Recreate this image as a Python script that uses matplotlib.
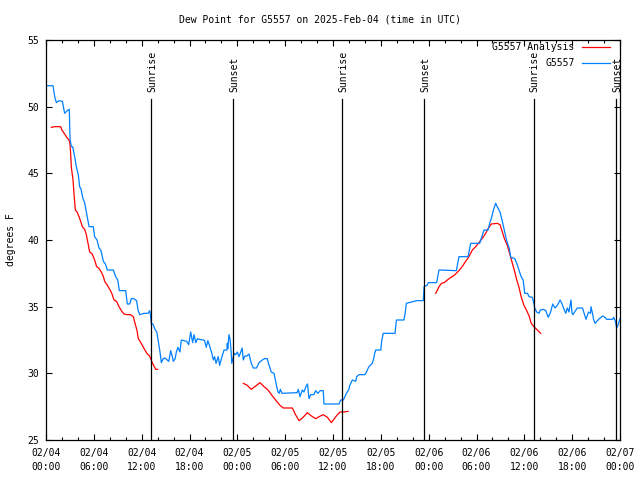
import datetime as dt
from matplotlib import pyplot as plt
from matplotlib.lines import Line2D
import matplotlib.dates as mdates

# hours after 2025-02-04 00:00 UTC, degrees F
obs_hours = [0.08, 0.88, 1.09, 1.3, 1.63, 2.05, 2.34, 2.5, 2.76, 2.92, 3.01, 3.18, 3.35, 3.6, 3.8,
             4.05, 4.22, 4.4, 4.64, 4.85, 5.1, 5.4, 5.93, 6.1, 6.4, 6.65, 6.9, 7.19, 7.45, 7.69,
             8.45, 8.74, 9.0, 9.2, 10.0, 10.2, 10.5, 10.7, 11.0, 11.37, 11.54, 11.75, 12.3, 12.8,
             13.0, 13.1, 13.2, 13.4, 13.67, 13.9, 14.09, 14.3, 14.47, 14.7, 14.95, 15.2, 15.4,
             15.64, 15.85, 15.97, 16.2, 16.35, 16.55, 16.8, 16.97, 17.3, 17.64, 17.9, 18.15, 18.4,
             18.57, 18.8, 19.0, 19.2, 19.73, 19.9, 20.1, 20.3, 20.5, 20.78, 20.99, 21.15, 21.33,
             21.6, 21.78, 22.0, 22.33, 22.7, 22.74, 22.8, 22.95, 23.1, 23.25, 23.3, 23.4, 23.6,
             23.8, 24.0, 24.2, 24.4, 24.6, 24.75, 24.95, 25.2, 25.46, 25.75, 26.0, 26.4, 26.72,
             27.13, 27.4, 27.76, 27.9, 28.1, 28.26, 28.6, 28.8, 28.94, 29.1, 29.25, 29.4, 29.6,
             31.5, 31.65, 31.86, 32.15, 32.35, 32.6, 32.8, 32.99, 33.2, 33.6, 33.83, 34.1, 34.4,
             34.78, 34.87, 36.75, 36.96, 37.3, 37.6, 37.88, 38.0, 38.1, 38.43, 38.85, 38.97,
             39.27, 40.0, 40.2, 40.5, 40.93, 41.1, 41.23, 41.36, 42.0, 42.1, 42.3, 43.78, 43.95,
             44.9, 45.05, 45.2, 46.5, 47.33, 47.42, 47.8, 47.96, 49.0, 49.3, 51.47, 51.8, 52.94,
             53.27, 54.4, 54.94, 55.45, 55.65, 55.9, 56.1, 56.4, 56.6, 56.95, 57.24, 57.5, 57.8,
             58.1, 58.3, 58.8, 59.05, 59.35, 59.6, 59.85, 60.05, 60.4, 60.59, 61.0, 61.2, 61.3,
             61.55, 61.84, 62.0, 62.4, 62.7, 63.0, 63.3, 63.56, 63.85, 64.15, 64.48, 64.7, 64.98,
             65.2, 65.4, 65.6, 65.73, 65.85, 65.98, 66.1, 66.3, 66.65, 67.3, 67.5, 67.74, 68.05,
             68.3, 68.36, 68.55, 68.66, 68.87, 69.1, 69.4, 69.83, 70.1, 70.33, 71.08, 71.2, 71.4,
             71.58, 71.8, 72.0]
obs_dewpt = [51.57, 51.57, 50.75, 50.3, 50.45, 50.4, 49.5, 49.6, 49.75, 49.8, 47.6, 47.0, 47.0,
             46.25, 45.5, 44.9, 44.0, 43.8, 43.1, 42.8, 42.0, 41.0, 41.0, 40.25, 40.0, 39.4, 39.2,
             38.4, 38.2, 37.75, 37.75, 37.25, 37.0, 36.2, 36.2, 35.2, 35.2, 35.6, 35.6, 35.45,
             34.75, 34.4, 34.5, 34.5, 34.7, 34.4, 33.75, 33.7, 33.3, 33.1, 32.4, 31.6, 30.8, 31.1,
             31.15, 31.0, 30.9, 31.7, 31.25, 30.9, 31.1, 31.6, 31.95, 31.6, 32.5, 32.45, 32.4,
             32.15, 33.1, 32.3, 32.9, 32.3, 32.6, 32.55, 32.5, 32.45, 31.95, 32.45, 32.1, 31.55,
             31.0, 31.25, 30.75, 31.25, 30.6, 31.1, 31.75, 31.75, 32.25, 31.85, 32.9, 32.5, 31.4,
             30.75, 31.0, 31.5, 31.4, 31.6, 31.25, 31.55, 31.9, 31.0, 31.3, 31.3, 31.45, 30.75,
             30.4, 30.4, 30.8, 31.0, 31.1, 31.1, 30.75, 30.4, 30.1, 30.0, 29.4, 29.0, 28.6, 28.5,
             28.8, 28.5, 28.55, 28.8, 28.25, 28.75, 28.6, 29.0, 29.2, 28.1, 28.4, 28.4, 28.7,
             28.5, 28.7, 28.7, 27.7, 27.7, 28.0, 28.0, 28.4, 28.7, 28.8, 29.1, 29.5, 29.4, 29.75,
             29.9, 29.9, 30.1, 30.5, 30.75, 31.1, 31.5, 31.75, 31.75, 32.4, 33.0, 33.0, 34.0,
             34.0, 34.5, 35.25, 35.45, 35.45, 36.5, 36.6, 36.8, 36.8, 37.75, 37.7, 38.75, 38.75,
             39.75, 39.75, 40.75, 40.75, 41.25, 41.7, 42.2, 42.75, 42.5, 42.1, 41.4, 40.7, 39.9,
             39.4, 38.7, 38.6, 38.25, 37.7, 37.25, 37.0, 36.0, 36.0, 35.75, 35.7, 35.25, 34.9,
             34.6, 34.5, 34.75, 34.8, 34.7, 34.2, 34.6, 35.2, 34.9, 35.1, 35.5, 35.25, 34.8, 34.5,
             34.9, 34.6, 35.1, 35.5, 34.5, 34.4, 34.6, 34.9, 34.9, 34.5, 34.05, 34.6, 34.5, 35.0,
             34.5, 34.1, 33.75, 33.9, 34.1, 34.3, 34.2, 34.05, 34.05, 34.2, 33.95, 33.4, 33.7,
             34.1]

# analysis comes in three separate pieces
ana_hours = [
    [0.67, 1.1, 1.84, 2.0, 2.34, 2.6, 2.88, 3.0, 3.09, 3.18, 3.39, 3.51, 3.68, 3.9, 4.14, 4.35,
     4.56, 4.85, 5.06, 5.27, 5.48, 5.8, 6.1, 6.35, 6.6, 6.94, 7.2, 7.36, 7.7, 7.99, 8.25, 8.53,
     8.85, 9.16, 9.45, 9.78, 10.2, 10.6, 10.96, 11.16, 11.4, 11.58, 11.8, 12.08, 12.4, 12.71,
     13.0, 13.25, 13.5, 13.76, 14.0],
    [24.75, 25.25, 25.75, 26.3, 26.84, 27.35, 27.85, 28.4, 28.94, 29.35, 29.77, 30.9, 31.3,
     31.74, 32.25, 32.78, 33.3, 33.83, 34.25, 34.78, 35.3, 35.8, 36.1, 36.55, 36.88, 37.4, 37.88],
    [48.88, 49.1, 49.3, 49.6, 49.93, 50.55, 51.2, 51.8, 52.2, 52.64, 53.05, 53.48, 53.9, 54.3,
     54.7, 55.15, 55.45, 55.86, 56.6, 56.95, 57.24, 57.5, 57.86, 58.15, 58.5, 58.8, 59.05,
     59.35, 59.6, 59.95, 60.3, 60.6, 60.87, 61.2, 61.55, 62.05],
]
ana_dewpt = [
    [48.45, 48.5, 48.5, 48.25, 47.95, 47.7, 47.5, 47.25, 46.5, 45.45, 44.5, 43.5, 42.25, 42.1,
     41.75, 41.4, 41.0, 40.8, 40.4, 39.75, 39.1, 38.95, 38.5, 38.0, 37.9, 37.6, 37.25, 36.9,
     36.6, 36.3, 36.0, 35.5, 35.4, 35.0, 34.7, 34.45, 34.4, 34.4, 34.25, 33.75, 33.25, 32.6,
     32.4, 32.1, 31.75, 31.45, 31.3, 30.9, 30.6, 30.3, 30.3],
    [29.25, 29.1, 28.8, 29.05, 29.3, 29.0, 28.75, 28.3, 27.9, 27.6, 27.4, 27.4, 26.9, 26.45,
     26.7, 27.05, 26.8, 26.6, 26.75, 26.9, 26.7, 26.3, 26.55, 26.9, 27.1, 27.1, 27.15],
    [36.0, 36.25, 36.5, 36.75, 36.8, 37.1, 37.35, 37.7, 38.0, 38.4, 38.75, 39.25, 39.5, 39.8,
     40.1, 40.5, 40.85, 41.2, 41.25, 41.15, 40.6, 40.1, 39.6, 39.0, 38.25, 37.6, 37.0, 36.4,
     35.75, 35.1, 34.7, 34.3, 33.75, 33.5, 33.3, 33.0],
]

sun_hours = [13.17, 23.46, 37.14, 47.43, 61.2, 71.5]
sun_labels = ["Sunrise", "Sunset", "Sunrise", "Sunset", "Sunrise", "Sunset"]

base = dt.datetime(2025, 2, 4)


def to_x(hours):
    return [mdates.date2num(base + dt.timedelta(hours=h)) for h in hours]


def main():
    plt.rcParams["font.family"] = "DejaVu Sans Mono"
    plt.rcParams["font.size"] = 7

    fig = plt.figure(figsize=(6.4, 4.8), dpi=100)
    ax = fig.add_axes([46 / 640, 40 / 480, 574 / 640, 400 / 480])

    red = "#ff0000"
    blue = "#0080ff"

    for h, v in zip(ana_hours, ana_dewpt):
        ax.plot(to_x(h), v, color=red, lw=0.9)
    ax.plot(to_x(obs_hours), obs_dewpt, color=blue, lw=0.9)

    for h, lab in zip(sun_hours, sun_labels):
        x = to_x([h])[0]
        ax.plot([x, x], [25, 50.6], color="black", lw=0.9)
        ax.text(x + 0.005, 51.1, lab, rotation=90, ha="center", va="bottom")

    ax.set_xlim(to_x([0])[0], to_x([72])[0])
    ax.set_ylim(25, 55)
    ax.xaxis.set_major_locator(mdates.HourLocator(byhour=range(0, 24, 6)))
    ax.xaxis.set_minor_locator(mdates.HourLocator(byhour=range(0, 24, 2)))
    ax.xaxis.set_major_formatter(mdates.DateFormatter("%m/%d\n%H:%M"))
    ax.set_yticks(range(25, 56, 5))

    ax.tick_params(which="both", direction="in", top=True, right=True, width=0.8)
    ax.tick_params(which="major", length=4.5)
    ax.tick_params(which="minor", length=2.5)
    ax.tick_params(axis="x", pad=6)
    ax.tick_params(axis="y", pad=5)
    for lab in ax.get_xticklabels():
        lab.set_linespacing(1.5)
    for sp in ax.spines.values():
        sp.set_linewidth(0.9)

    # legend, gnuplot style: text right aligned, sample on the right
    entries = [("G5557 Analysis", red), ("G5557", blue)]
    for i, (lab, col) in enumerate(entries):
        y = 0.9825 - i * 0.04
        ax.text(0.921, y, lab, ha="right", va="center", transform=ax.transAxes)
        ax.add_line(Line2D([0.934, 0.983], [y, y], color=col, lw=0.9, transform=ax.transAxes))

    fig.text(0.5, 1 - 19 / 480, "Dew Point for G5557 on 2025-Feb-04 (time in UTC)",
             ha="center", va="center")
    fig.text(11 / 640, 0.5, "degrees F", rotation=90, ha="center", va="center")

    plt.savefig("out.png", dpi=100)


if __name__ == "__main__":
    main()
